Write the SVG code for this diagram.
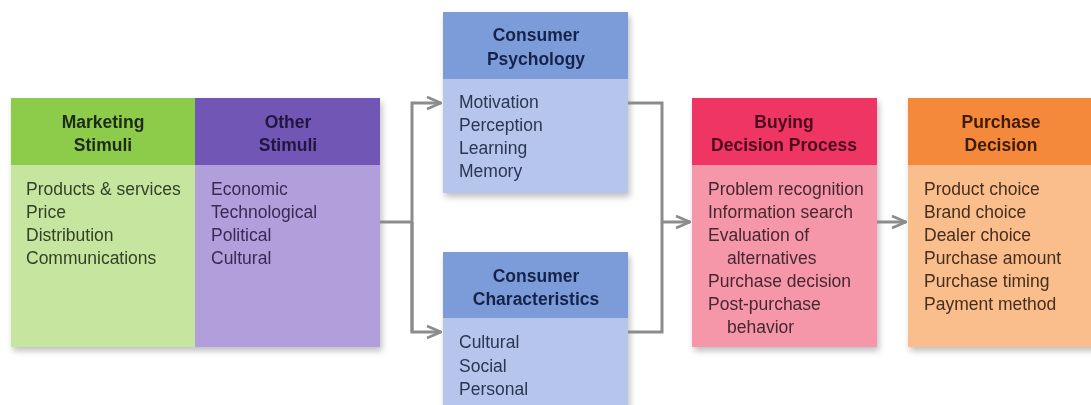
<svg xmlns="http://www.w3.org/2000/svg" width="1091" height="405" viewBox="0 0 1091 405">
<defs>
<filter id="sh" x="-10%" y="-10%" width="125%" height="130%">
<feDropShadow dx="2" dy="4" stdDeviation="3" flood-color="#000" flood-opacity="0.25"/>
</filter>
<marker id="arr" viewBox="0 0 16 16" refX="15" refY="8" markerWidth="16" markerHeight="16" markerUnits="userSpaceOnUse" orient="auto">
<path d="M1,2 L15,8 L1,14" fill="none" stroke="#8c8c8c" stroke-width="2.6"/>
</marker>
</defs>
<style>
text{font-family:"Liberation Sans",Arial,sans-serif;}
.h{font-size:17.5px;font-weight:bold;text-anchor:middle;}
.b{font-size:17.5px;}
.con{fill:none;stroke:#8c8c8c;stroke-width:3;}
</style>
<rect width="1091" height="405" fill="#ffffff"/>
<g id="stimuli" filter="url(#sh)">
<g id="marketing">
<rect x="11" y="98" width="184" height="249" fill="#c6e59e"/>
<rect x="11" y="98" width="184" height="67" fill="#8dcb4b"/>
<text class="h" fill="#1e2a12"><tspan x="103" y="128">Marketing</tspan><tspan x="103" y="151">Stimuli</tspan></text>
<text class="b" fill="#33422a"><tspan x="26" y="195">Products &amp; services</tspan><tspan x="26" y="218">Price</tspan><tspan x="26" y="241">Distribution</tspan><tspan x="26" y="264">Communications</tspan></text>
</g>
<g id="other">
<rect x="195" y="98" width="185" height="249" fill="#b19fdb"/>
<rect x="195" y="98" width="185" height="67" fill="#7257b5"/>
<text class="h" fill="#22163f"><tspan x="288" y="128">Other</tspan><tspan x="288" y="151">Stimuli</tspan></text>
<text class="b" fill="#382a55"><tspan x="211" y="195">Economic</tspan><tspan x="211" y="218">Technological</tspan><tspan x="211" y="241">Political</tspan><tspan x="211" y="264">Cultural</tspan></text>
</g>
</g>
<g id="psychology" filter="url(#sh)">
<rect x="443" y="12" width="185" height="181" fill="#b5c5ec"/>
<rect x="443" y="12" width="185" height="67" fill="#7c9cd9"/>
<text class="h" fill="#16244a"><tspan x="536" y="41">Consumer</tspan><tspan x="536" y="65">Psychology</tspan></text>
<text class="b" fill="#2b3652"><tspan x="459" y="108">Motivation</tspan><tspan x="459" y="131">Perception</tspan><tspan x="459" y="154">Learning</tspan><tspan x="459" y="177">Memory</tspan></text>
</g>
<g id="characteristics" filter="url(#sh)">
<rect x="443" y="252" width="185" height="160" fill="#b5c5ec"/>
<rect x="443" y="252" width="185" height="66" fill="#7c9cd9"/>
<text class="h" fill="#16244a"><tspan x="536" y="282">Consumer</tspan><tspan x="536" y="305">Characteristics</tspan></text>
<text class="b" fill="#2b3652"><tspan x="459" y="348">Cultural</tspan><tspan x="459" y="372">Social</tspan><tspan x="459" y="395">Personal</tspan></text>
</g>
<g id="buying" filter="url(#sh)">
<rect x="692" y="98" width="185" height="249" fill="#f596a9"/>
<rect x="692" y="98" width="185" height="67" fill="#ee3563"/>
<text class="h" fill="#4a0c1c"><tspan x="784" y="128">Buying</tspan><tspan x="784" y="151">Decision Process</tspan></text>
<text class="b" fill="#462830"><tspan x="708" y="195">Problem recognition</tspan><tspan x="708" y="218">Information search</tspan><tspan x="708" y="241">Evaluation of</tspan><tspan x="727" y="264">alternatives</tspan><tspan x="708" y="287">Purchase decision</tspan><tspan x="708" y="310">Post-purchase</tspan><tspan x="727" y="333">behavior</tspan></text>
</g>
<g id="purchase" filter="url(#sh)">
<rect x="908" y="98" width="190" height="249" fill="#f9be8c"/>
<rect x="908" y="98" width="190" height="67" fill="#f4883a"/>
<text class="h" fill="#3e1a05"><tspan x="1001" y="128">Purchase</tspan><tspan x="1001" y="151">Decision</tspan></text>
<text class="b" fill="#462d1e"><tspan x="924" y="195">Product choice</tspan><tspan x="924" y="218">Brand choice</tspan><tspan x="924" y="241">Dealer choice</tspan><tspan x="924" y="264">Purchase amount</tspan><tspan x="924" y="287">Purchase timing</tspan><tspan x="924" y="310">Payment method</tspan></text>
</g>
<g id="connectors">
<path class="con" d="M380,222 H412"/>
<path class="con" d="M412,332 V103 H441" marker-end="url(#arr)"/>
<path class="con" d="M412,222 V332 H441" marker-end="url(#arr)"/>
<path class="con" d="M628,103 H662 V332 H628"/>
<path class="con" d="M662,222 H690" marker-end="url(#arr)"/>
<path class="con" d="M877,222 H906" marker-end="url(#arr)"/>
</g>
</svg>
